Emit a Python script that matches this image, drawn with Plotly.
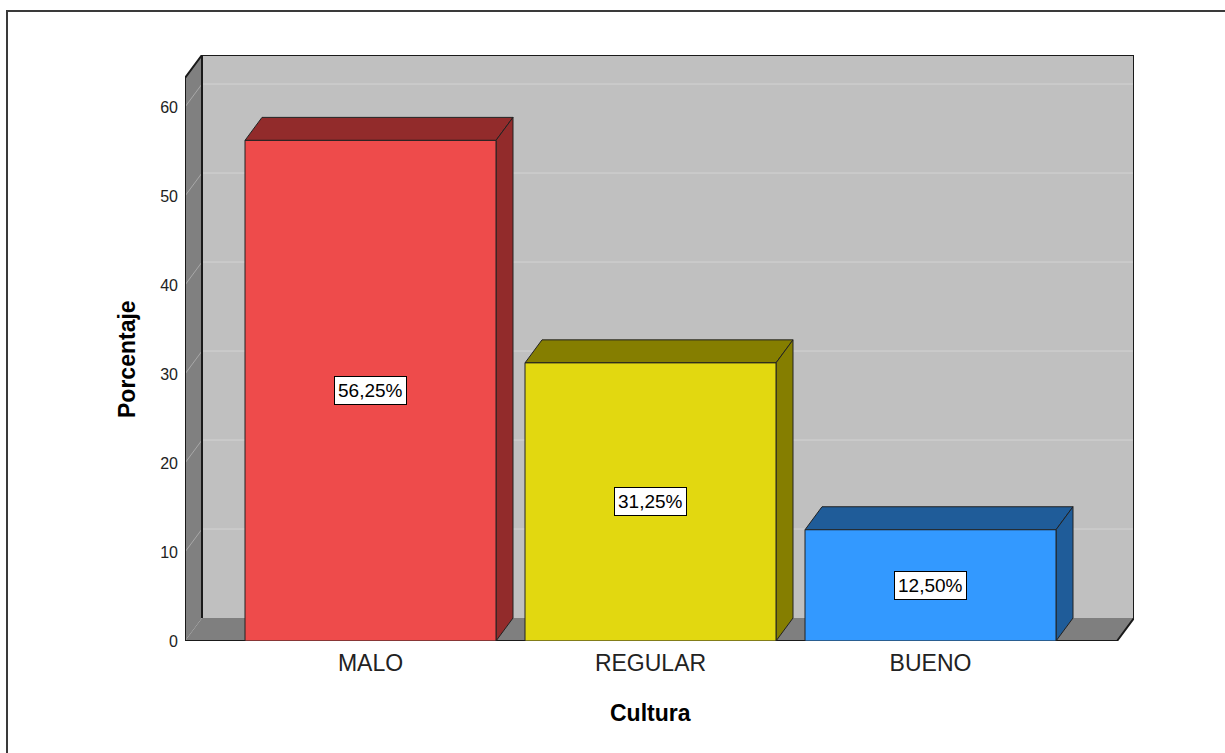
import plotly.graph_objects as go

# ---- data ----
categories = ["MALO", "REGULAR", "BUENO"]
percentages = [56.25, 31.25, 12.50]
value_labels = ["56,25%", "31,25%", "12,50%"]
y_ticks = [0, 10, 20, 30, 40, 50, 60]

front_colors = ["#EE4B4B", "#E2D810", "#3399FF"]
shade_colors = ["#922B2B", "#857E00", "#1F5C99"]

# ---- layout geometry (pixels) ----
W, H = 1225, 753
PL, PR, PT, PB = 185, 1134, 55, 641          # plot area edges
PX_PER_Y = 8.9                               # pixels per percentage point
PX_PER_CAT = 280                             # pixels between categories
CAT0_PX = 370.5                              # first category centre
DX_PX, DY_PX = 17, 23                        # 3-D depth offset
BAR_W_PX = 251
FLOOR_RIGHT_PX = 1117

def xu(px):
    return (px - CAT0_PX) / PX_PER_CAT

x_min, x_max = xu(PL), xu(PR)
y_max = (PB - PT) / PX_PER_Y
dx = DX_PX / PX_PER_CAT
dy = DY_PX / PX_PER_Y
hw = BAR_W_PX / 2 / PX_PER_CAT
wall_top = y_max - dy
x_fl, x_bl = x_min, x_min + dx
x_br = x_max
x_fr = xu(FLOOR_RIGHT_PX)

def poly(xs, ys, fill, line="black", lw=1):
    return go.Scatter(x=xs + [xs[0]], y=ys + [ys[0]], mode="lines", fill="toself",
                      fillcolor=fill, line=dict(color=line, width=lw),
                      hoverinfo="skip", showlegend=False)

def seg(xs, ys, color, lw=1):
    return go.Scatter(x=xs, y=ys, mode="lines", line=dict(color=color, width=lw),
                      hoverinfo="skip", showlegend=False)

fig = go.Figure()

# back wall
fig.add_trace(poly([x_bl, x_br, x_br, x_bl], [dy, dy, y_max, y_max], "#C0C0C0", "#C0C0C0", 0))
# gridlines on back wall and left wall
for t in y_ticks[1:]:
    fig.add_trace(seg([x_bl, x_br], [t + dy, t + dy], "#D3D3D3", 1))
# left wall
fig.add_trace(poly([x_fl, x_bl, x_bl, x_fl], [0, dy, y_max, wall_top], "#808080", "#808080", 0))
for t in y_ticks[1:]:
    fig.add_trace(seg([x_fl, x_bl], [t, t + dy], "#A8A8A8", 1))
# floor
fig.add_trace(poly([x_fl, x_fr, x_br, x_bl], [0, 0, dy, dy], "#7F7F7F", "#7F7F7F", 0))
# wall / floor edges
fig.add_trace(seg([x_bl, x_bl, x_br, x_br], [dy, y_max, y_max, dy], "#1A1A1A", 2))
fig.add_trace(seg([x_fl, x_fl, x_bl], [0, wall_top, y_max], "#1A1A1A", 2))
fig.add_trace(seg([x_fl, x_fr, x_br], [0, 0, dy], "#1A1A1A", 2))

# bars
for i, (v, fc, sc) in enumerate(zip(percentages, front_colors, shade_colors)):
    l, r = i - hw, i + hw
    fig.add_trace(poly([l, r, r + dx, l + dx], [v, v, v + dy, v + dy], sc, "#222222", 1))
    fig.add_trace(poly([r, r + dx, r + dx, r], [0, dy, v + dy, v], sc, "#222222", 1))
    fig.add_trace(poly([l, r, r, l], [0, 0, v, v], fc, "#222222", 1))

annotations = []
for i, (v, lab) in enumerate(zip(percentages, value_labels)):
    annotations.append(dict(x=i, y=v / 2, text=lab, showarrow=False,
                            font=dict(family="Arial, Liberation Sans", size=19, color="black"),
                            bgcolor="white", bordercolor="black", borderwidth=1, borderpad=3))

def paper_x(px):
    return (px - PL) / (PR - PL)

def paper_y(py):
    return (PB - py) / (PB - PT)

annotations.append(dict(xref="paper", yref="paper", x=paper_x(650), y=paper_y(713),
                        xanchor="center", yanchor="middle",
                        text="<b>Cultura</b>", showarrow=False,
                        font=dict(family="Arial, Liberation Sans", size=23, color="black")))
annotations.append(dict(xref="paper", yref="paper", x=paper_x(127), y=paper_y(359),
                        xanchor="center", yanchor="middle",
                        text="<b>Porcentaje</b>", showarrow=False, textangle=-90,
                        font=dict(family="Arial, Liberation Sans", size=23, color="black")))

fig.update_layout(
    width=W, height=H,
    margin=dict(l=PL, r=W - PR, t=PT, b=H - PB, pad=0),
    paper_bgcolor="white", plot_bgcolor="white",
    showlegend=False,
    annotations=annotations,
    shapes=[dict(type="rect", xref="paper", yref="paper",
                 x0=paper_x(7), x1=paper_x(1240), y0=paper_y(11), y1=paper_y(770),
                 line=dict(color="#3A3A3A", width=2), fillcolor="rgba(0,0,0,0)", layer="above")],
    xaxis=dict(range=[x_min, x_max], tickvals=list(range(len(categories))), ticktext=categories,
               showgrid=False, zeroline=False, showline=False, ticks="",
               tickfont=dict(family="Arial, Liberation Sans", size=23, color="#222222"),
               ticklabelstandoff=6, fixedrange=True),
    yaxis=dict(range=[0, y_max], tickvals=y_ticks, ticktext=[str(t) for t in y_ticks],
               showgrid=False, zeroline=False, showline=False, ticks="",
               tickfont=dict(family="Arial, Liberation Sans", size=16, color="#222222"),
               ticklabelstandoff=6, fixedrange=True),
)

fig.write_html("out.html")
